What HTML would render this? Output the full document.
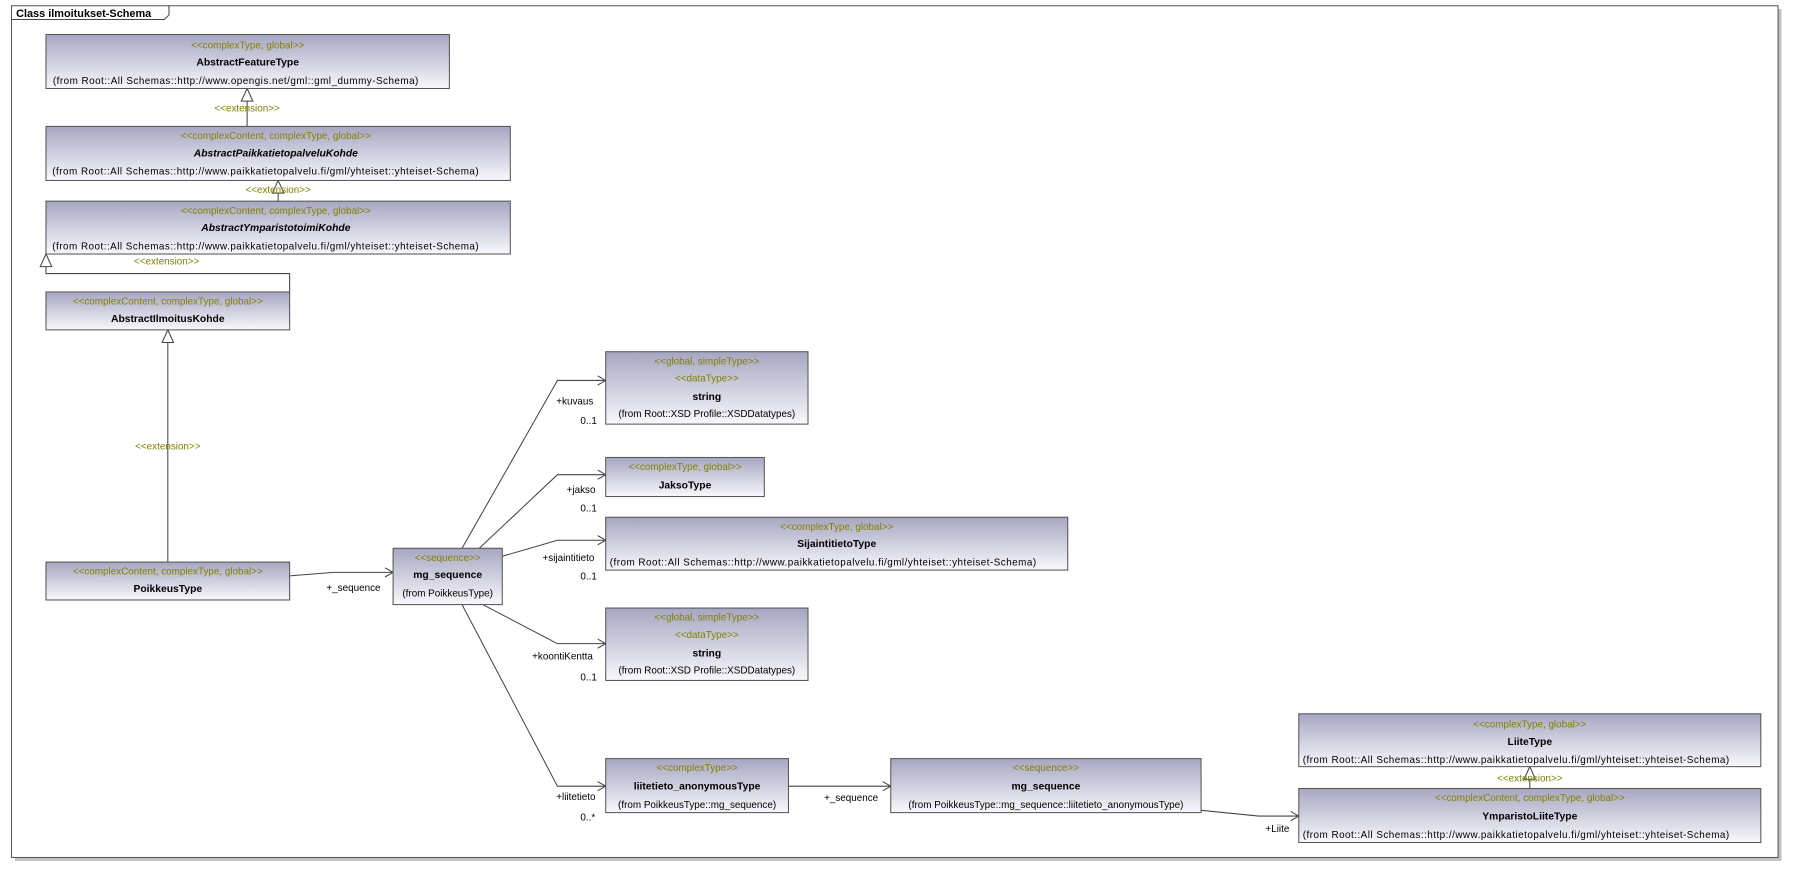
<!DOCTYPE html>
<html><head><meta charset="utf-8"><style>
html,body{margin:0;padding:0;background:#fff;}
svg{display:block;}
text{font-family:"Liberation Sans",Arial,sans-serif;}
.st{fill:#808000;font-size:8.6px;text-anchor:middle;}
.nm{fill:#000;font-size:9px;font-weight:bold;text-anchor:middle;}
.it{font-style:italic;}
.fr{fill:#000;font-size:8.6px;text-anchor:middle;}
.lb{fill:#000;font-size:8.6px;}
.ln{stroke:#444;stroke-width:0.9;fill:none;}
.bx{fill:url(#g);stroke:#555;stroke-width:0.9;}
</style></head><body>
<svg width="1793" height="874" viewBox="0 0 1560 760.4" preserveAspectRatio="none">
<defs>
<linearGradient id="g" x1="0" y1="0" x2="0" y2="1">
<stop offset="0" stop-color="#a6a6c2"/><stop offset="1" stop-color="#f8f8fc"/></linearGradient>
</defs>
<!-- frame -->
<rect x="13" y="8" width="1537" height="741" fill="#c0c0c0"/>
<rect x="10" y="5" width="1537" height="741" fill="#fff" stroke="#555" stroke-width="0.9"/>
<path d="M10,17 H143 L147,13 V5" class="ln"/>
<text x="14" y="15" style="font-size:9.5px;font-weight:bold" fill="#000">Class ilmoitukset-Schema</text>

<!-- connectors -->
<g class="ln">
<path d="M215,110 V77"/><path d="M242,175 V157"/>
<path d="M252,254 V238 H40 V221"/>
<path d="M146,489 V287"/>
<path d="M1331,686 V667"/>
<path d="M252,501 L290,498 H342"/><path d="M335,494 L342,498 L335,502"/>
<path d="M402,477 L485,331 H527"/><path d="M520,327 L527,331 L520,335"/>
<path d="M417,477 L485,413 H527"/><path d="M520,409 L527,413 L520,417"/>
<path d="M437,484 L485,470 H527"/><path d="M520,466 L527,470 L520,474"/>
<path d="M420,526 L485,560 H527"/><path d="M520,556 L527,560 L520,564"/>
<path d="M402,526 L485,684 H527"/><path d="M520,680 L527,684 L520,688"/>
<path d="M686,684 H775"/><path d="M768,680 L775,684 L768,688"/>
<path d="M1045,705 L1095,710 H1130"/><path d="M1123,706 L1130,710 L1123,714"/>
</g>
<g fill="#fff" stroke="#444" stroke-width="0.9">
<path d="M215,77 L210,88 H220 Z"/><path d="M242,157 L237,168 H247 Z"/>
<path d="M40,221 L35,232 H45 Z"/><path d="M146,287 L141,298 H151 Z"/>
<path d="M1331,667 L1326,678 H1336 Z"/>
</g>
<text class="st" x="215" y="97">&lt;&lt;extension&gt;&gt;</text>
<text class="st" x="242" y="168">&lt;&lt;extension&gt;&gt;</text>
<text class="st" x="145" y="230">&lt;&lt;extension&gt;&gt;</text>
<text class="st" x="146" y="391">&lt;&lt;extension&gt;&gt;</text>
<text class="st" x="1331" y="680">&lt;&lt;extension&gt;&gt;</text>

<text class="lb" x="284" y="514">+_sequence</text>
<text class="lb" x="484" y="352">+kuvaus</text><text class="lb" x="505" y="369">0..1</text>
<text class="lb" x="493" y="429">+jakso</text><text class="lb" x="505" y="445">0..1</text>
<text class="lb" x="472" y="488">+sijaintitieto</text><text class="lb" x="505" y="504">0..1</text>
<text class="lb" x="463" y="574">+koontiKentta</text><text class="lb" x="505" y="592">0..1</text>
<text class="lb" x="484" y="696">+liitetieto</text><text class="lb" x="505" y="714">0..*</text>
<text class="lb" x="717" y="697">+_sequence</text>
<text class="lb" x="1101" y="724">+Liite</text>

<!-- boxes -->
<rect class="bx" x="40" y="30" width="351" height="47"/>
<text class="st" x="215.5" y="42">&lt;&lt;complexType, global&gt;&gt;</text>
<text class="nm" x="215.5" y="57">AbstractFeatureType</text>
<text class="fr" x="205" y="73" textLength="318">(from Root::All Schemas::http://www.opengis.net/gml::gml_dummy-Schema)</text>

<rect class="bx" x="40" y="110" width="404" height="47"/>
<text class="st" x="240" y="121">&lt;&lt;complexContent, complexType, global&gt;&gt;</text>
<text class="nm it" x="240" y="136">AbstractPaikkatietopalveluKohde</text>
<text class="fr" x="231" y="152" textLength="371">(from Root::All Schemas::http://www.paikkatietopalvelu.fi/gml/yhteiset::yhteiset-Schema)</text>

<rect class="bx" x="40" y="175" width="404" height="46"/>
<text class="st" x="240" y="186">&lt;&lt;complexContent, complexType, global&gt;&gt;</text>
<text class="nm it" x="240" y="201">AbstractYmparistotoimiKohde</text>
<text class="fr" x="231" y="217" textLength="371">(from Root::All Schemas::http://www.paikkatietopalvelu.fi/gml/yhteiset::yhteiset-Schema)</text>

<rect class="bx" x="40" y="254" width="212" height="33"/>
<text class="st" x="146" y="265">&lt;&lt;complexContent, complexType, global&gt;&gt;</text>
<text class="nm" x="146" y="280">AbstractIlmoitusKohde</text>

<rect class="bx" x="40" y="489" width="212" height="33"/>
<text class="st" x="146" y="500">&lt;&lt;complexContent, complexType, global&gt;&gt;</text>
<text class="nm" x="146" y="515">PoikkeusType</text>

<rect class="bx" x="342" y="477" width="95" height="49"/>
<text class="st" x="389.5" y="488">&lt;&lt;sequence&gt;&gt;</text>
<text class="nm" x="389.5" y="503">mg_sequence</text>
<text class="fr" x="389.5" y="519">(from PoikkeusType)</text>

<rect class="bx" x="527" y="306" width="176" height="63"/>
<text class="st" x="615" y="317">&lt;&lt;global, simpleType&gt;&gt;</text>
<text class="st" x="615" y="332">&lt;&lt;dataType&gt;&gt;</text>
<text class="nm" x="615" y="348">string</text>
<text class="fr" x="615" y="363">(from Root::XSD Profile::XSDDatatypes)</text>

<rect class="bx" x="527" y="398" width="138" height="34"/>
<text class="st" x="596" y="409">&lt;&lt;complexType, global&gt;&gt;</text>
<text class="nm" x="596" y="425">JaksoType</text>

<rect class="bx" x="527" y="450" width="402" height="46"/>
<text class="st" x="728" y="461">&lt;&lt;complexType, global&gt;&gt;</text>
<text class="nm" x="728" y="476">SijaintitietoType</text>
<text class="fr" x="716" y="492" textLength="371">(from Root::All Schemas::http://www.paikkatietopalvelu.fi/gml/yhteiset::yhteiset-Schema)</text>

<rect class="bx" x="527" y="529" width="176" height="63"/>
<text class="st" x="615" y="540">&lt;&lt;global, simpleType&gt;&gt;</text>
<text class="st" x="615" y="555">&lt;&lt;dataType&gt;&gt;</text>
<text class="nm" x="615" y="571">string</text>
<text class="fr" x="615" y="586">(from Root::XSD Profile::XSDDatatypes)</text>

<rect class="bx" x="527" y="660" width="159" height="47"/>
<text class="st" x="606.5" y="671">&lt;&lt;complexType&gt;&gt;</text>
<text class="nm" x="606.5" y="687">liitetieto_anonymousType</text>
<text class="fr" x="606.5" y="703">(from PoikkeusType::mg_sequence)</text>

<rect class="bx" x="775" y="660" width="270" height="47"/>
<text class="st" x="910" y="671">&lt;&lt;sequence&gt;&gt;</text>
<text class="nm" x="910" y="687">mg_sequence</text>
<text class="fr" x="910" y="703">(from PoikkeusType::mg_sequence::liitetieto_anonymousType)</text>

<rect class="bx" x="1130" y="621" width="402" height="46"/>
<text class="st" x="1331" y="633">&lt;&lt;complexType, global&gt;&gt;</text>
<text class="nm" x="1331" y="648">LiiteType</text>
<text class="fr" x="1319" y="664" textLength="371">(from Root::All Schemas::http://www.paikkatietopalvelu.fi/gml/yhteiset::yhteiset-Schema)</text>

<rect class="bx" x="1130" y="686" width="402" height="47"/>
<text class="st" x="1331" y="697">&lt;&lt;complexContent, complexType, global&gt;&gt;</text>
<text class="nm" x="1331" y="713">YmparistoLiiteType</text>
<text class="fr" x="1319" y="729" textLength="371">(from Root::All Schemas::http://www.paikkatietopalvelu.fi/gml/yhteiset::yhteiset-Schema)</text>
</svg>
</body></html>
